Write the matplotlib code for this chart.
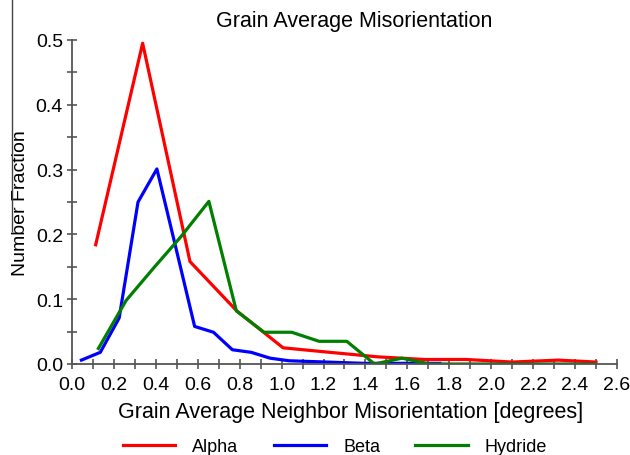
import matplotlib
matplotlib.use("Agg")
import matplotlib.pyplot as plt
from matplotlib.lines import Line2D
from matplotlib.ticker import MultipleLocator, FormatStrFormatter

plt.rcParams["font.family"] = ["Liberation Sans", "DejaVu Sans"]

# Alpha phase
alpha_x = [0.113, 0.337, 0.563, 0.786, 1.007, 1.23, 1.46, 1.68, 1.88, 2.10, 2.32, 2.50]
alpha_y = [0.184, 0.495, 0.158, 0.082, 0.025, 0.018, 0.011, 0.007, 0.007, 0.003, 0.006, 0.003]

# Beta phase
beta_x = [0.045, 0.135, 0.225, 0.315, 0.405, 0.495, 0.585, 0.675, 0.765, 0.855,
          0.945, 1.035, 1.125, 1.215, 1.305, 1.395, 1.485, 1.575, 1.665, 1.755]
beta_y = [0.006, 0.018, 0.071, 0.250, 0.301, 0.180, 0.058, 0.049, 0.022, 0.018,
          0.009, 0.005, 0.004, 0.003, 0.002, 0.001, 0.001, 0.001, 0.001, 0.001]

# Hydride phase
hyd_x = [0.126, 0.258, 0.389, 0.521, 0.653, 0.784, 0.916, 1.048, 1.179, 1.311,
         1.443, 1.574, 1.706, 1.837, 1.969, 2.101, 2.232, 2.364, 2.496]
hyd_y = [0.024, 0.098, 0.148, 0.197, 0.251, 0.082, 0.049, 0.049, 0.035, 0.035,
         0.000, 0.009, 0.000, 0.000, 0.000, 0.000, 0.000, 0.000, 0.000]

fig = plt.figure(figsize=(6.3, 4.56), dpi=100)
ax = fig.add_axes([72/630, 1 - 365/456, 545/630, 324/456])

lw = 2.3
ax.plot(alpha_x, alpha_y, color="#ff0000", lw=lw, label="Alpha")
ax.plot(beta_x, beta_y, color="#0000ff", lw=lw, label="Beta")
ax.plot(hyd_x, hyd_y, color="#007f00", lw=lw, label="Hydride")

ax.set_xlim(0, 2.6)
ax.set_ylim(0, 0.5)
ax.xaxis.set_major_locator(MultipleLocator(0.2))
ax.xaxis.set_minor_locator(MultipleLocator(0.1))
ax.yaxis.set_major_locator(MultipleLocator(0.1))
ax.yaxis.set_minor_locator(MultipleLocator(0.05))
ax.xaxis.set_major_formatter(FormatStrFormatter("%.1f"))
ax.yaxis.set_major_formatter(FormatStrFormatter("%.1f"))

for s in ("top", "right"):
    ax.spines[s].set_visible(False)
for s in ("left", "bottom"):
    ax.spines[s].set_color("#555555")
    ax.spines[s].set_linewidth(1.3)
ax.tick_params(which="both", direction="inout", color="#555555", width=1.2,
               labelsize=14, length=7)
ax.tick_params(axis="x", pad=5)
ax.tick_params(axis="y", pad=3)

ax.set_title("Grain Average Misorientation", fontsize=15.5, pad=10, x=0.517)
ax.set_xlabel("Grain Average Neighbor Misorientation [degrees]", fontsize=15.5, labelpad=6)
ax.xaxis.label.set_x(0.512)
ax.set_ylabel("Number Fraction", fontsize=14, labelpad=5)

fig.legend(loc="center", bbox_to_anchor=(335/630, 1 - 448/456), ncol=3, frameon=False,
           fontsize=13, handlelength=2.9, columnspacing=1.95, handletextpad=0.95)

# thin scan border on the left edge
fig.add_artist(Line2D([12/630, 12/630], [1.0, 1 - 232/456], color="#444444", lw=1.0))

fig.savefig("out.png", dpi=100)
